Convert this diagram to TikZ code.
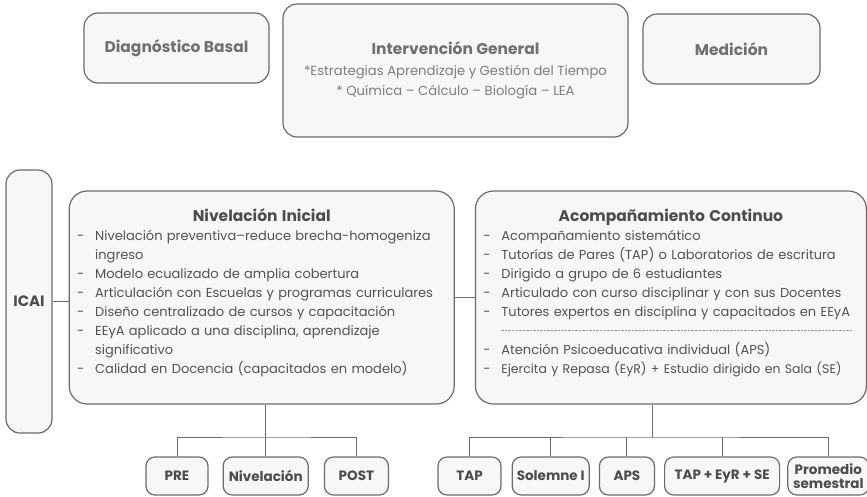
\documentclass[tikz,border=0pt]{standalone}
\usepackage{fontspec}
\setmainfont{Poppins}
\usepackage{xcolor}
\usetikzlibrary{positioning}

\definecolor{lineGray}{HTML}{6B6B6B}
\definecolor{boxFill}{HTML}{F7F7F7}
\definecolor{headGray}{HTML}{4C4C4C}
\definecolor{bodyGray}{HTML}{525252}
\definecolor{topGray}{HTML}{707070}
\definecolor{subGray}{HTML}{7E7E7E}
\definecolor{dashGray}{HTML}{9A9A9A}

% list line with hanging dash
\newcommand{\itm}[1]{\par\noindent\hangindent=18pt\hangafter=1\makebox[18pt][l]{-}#1}
% dashed separator row
\newcommand{\sepline}{\par\noindent\hspace*{18pt}\hbox to 352pt{\color{dashGray}\xleaders\hbox{\rule[4pt]{2.5pt}{0.6pt}\hspace{1pt}}\hfill}}

\begin{document}
\begin{tikzpicture}[
    x=1pt, y=-1pt,
    topbox/.style={rectangle, draw=lineGray, fill=boxFill, line width=1.2pt, rounded corners=14pt, align=center, inner sep=0pt, minimum height=70pt, text=topGray, font=\fontsize{15.5}{18}\selectfont\bfseries},
    bigbox/.style={rectangle, draw=lineGray, fill=boxFill, line width=1.2pt, rounded corners=18pt, inner xsep=8pt, inner ysep=0pt, minimum height=213pt, text=bodyGray, font=\fontsize{13}{19}\selectfont},
    leafbox/.style={rectangle, draw=lineGray, fill=boxFill, line width=1.2pt, rounded corners=9pt, inner sep=0pt, minimum height=38pt, align=center, text=headGray, font=\fontsize{13.5}{14}\selectfont\bfseries},
    conn/.style={draw=lineGray, line width=1pt}
]
\useasboundingbox (0,0) rectangle (867,496);

% Top row
\node[topbox, minimum width=185pt] (diag) at (176.5,48) {Diagnóstico Basal};
\node[topbox, minimum width=345pt, minimum height=133pt, font=\fontsize{13.2}{20.5}\selectfont] (interv) at (455.5,70.5)
  {{\fontsize{15.5}{20.5}\selectfont\bfseries Intervención General}\\
   \textcolor{subGray}{*Estrategias Aprendizaje y Gestión del Tiempo}\\
   \textcolor{subGray}{* Química -- Cálculo -- Biología -- LEA}};
\node[topbox, minimum width=177pt] (medic) at (731.5,49) {Medición};

% Middle row
\node[rectangle, draw=lineGray, fill=boxFill, line width=1.2pt, rounded corners=14pt, minimum width=46pt, minimum height=263pt, inner sep=0pt, text=headGray, font=\fontsize{15}{18}\selectfont\bfseries] (icai) at (29,301.5) {ICAI};

\node[bigbox, text width=369pt, right=16pt of icai, yshift=4pt] (nivel) {%
  {\centering\fontsize{15.5}{19}\selectfont\bfseries\color{headGray} Nivelación Inicial\par}
  \raggedright
  \itm{Nivelación preventiva--reduce brecha-homogeniza\newline ingreso}
  \itm{Modelo ecualizado de amplia cobertura}
  \itm{Articulación con Escuelas y programas curriculares}
  \itm{Diseño centralizado de cursos y capacitación}
  \itm{EEyA aplicado a una disciplina, aprendizaje\newline significativo}
  \itm{Calidad en Docencia (capacitados en modelo)}\par\vspace{10pt}};

\node[bigbox, text width=375pt, right=20pt of nivel] (acomp) {%
  {\centering\fontsize{15.5}{19}\selectfont\bfseries\color{headGray} Acompañamiento Continuo\par}
  \raggedright
  \itm{Acompañamiento sistemático}
  \itm{Tutorías de Pares (TAP) o Laboratorios de escritura}
  \itm{Dirigido a grupo de 6 estudiantes}
  \itm{Articulado con curso disciplinar y con sus Docentes}
  \itm{Tutores expertos en disciplina y capacitados en EEyA}
  \sepline
  \itm{Atención Psicoeducativa individual (APS)}
  \itm{\mbox{\fontsize{12.5}{19}\selectfont Ejercita y Repasa (EyR) + Estudio dirigido en Sala (SE)}}\par\vspace{10pt}};

% Bottom row
\node[leafbox, minimum width=62pt] (pre) at (177,476) {PRE};
\node[leafbox, minimum width=85pt, right=14pt of pre] (nivb) {Nivelación};
\node[leafbox, minimum width=64pt, right=15pt of nivb] (post) {POST};

\node[leafbox, minimum width=63pt] (tap) at (469.5,476) {TAP};
\node[leafbox, minimum width=77pt, right=10pt of tap] (solem) {Solemne I};
\node[leafbox, minimum width=55pt, right=9pt of solem] (aps) {APS};
\node[leafbox, minimum width=115pt, right=9pt of aps] (tapeyr) {TAP + EyR + SE};
\node[leafbox, minimum width=81pt, right=7pt of tapeyr] (prom) {Promedio\\semestral};

% Connectors
\coordinate (ljoin) at (266,437);
\coordinate (rjoin) at (652,437);
\draw[conn] (icai.east) -- (icai.east -| nivel.west);
\draw[conn] (nivel) -- (acomp);

\draw[conn] (nivel.south -| nivb.north) -- (nivb.north);
\draw[conn] (pre.north) |- (ljoin) -| (post.north);

\draw[conn] (acomp.south -| rjoin) -- (rjoin);
\draw[conn] (tap.north) |- (rjoin) -| (prom.north);
\foreach \leaf in {solem, aps, tapeyr}
  \draw[conn] (\leaf.north) -- (\leaf.north |- rjoin);

\end{tikzpicture}
\end{document}
